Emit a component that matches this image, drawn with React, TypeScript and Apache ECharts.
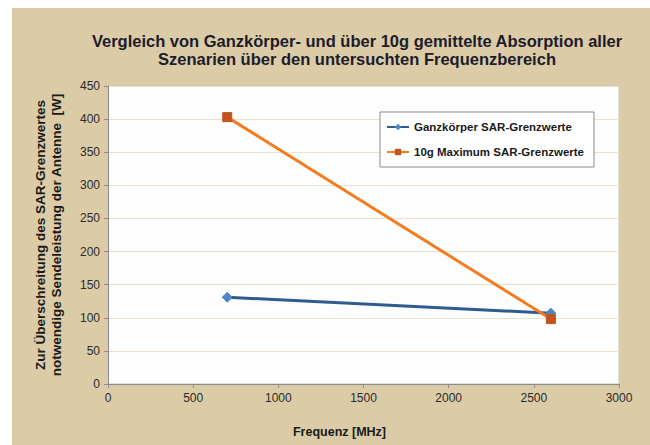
import React, { useEffect, useRef } from "react";
import * as echarts from "echarts";

const titleLines = [
  "Vergleich von Ganzkörper- und über 10g gemittelte Absorption aller",
  "Szenarien über den untersuchten Frequenzbereich",
];
const xName = "Frequenz [MHz]";
const yName = "Zur Überschreitung des SAR-Grenzwertes\nnotwendige Sendeleistung der Antenne  [W]";
const frequencies = [700, 2600];
const ganzkoerper = [131, 107];
const maximum10g = [403, 98];
const seriesNames = ["Ganzkörper SAR-Grenzwerte", "10g Maximum SAR-Grenzwerte"];

export default function App() {
  const ref = useRef<HTMLDivElement>(null);
  useEffect(() => {
    if (!ref.current) return;
    const chart = echarts.init(ref.current, undefined, { renderer: "svg" });
    const font = "'Liberation Sans', Arial, sans-serif";
    chart.setOption({
      animation: false,
      backgroundColor: "#dccba7",
      textStyle: { fontFamily: font },
      title: {
        text: titleLines.join("\n"),
        left: 340,
        top: 19,
        textAlign: "center",
        textStyle: { fontSize: 16.5, fontWeight: "bold", color: "#1c1c2a", lineHeight: 18, fontFamily: font },
      },
      legend: {
        orient: "vertical",
        left: 368,
        top: 104,
        backgroundColor: "#ffffff",
        borderColor: "#8a8a8a",
        borderWidth: 1,
        padding: [9, 10, 9, 6],
        itemGap: 13,
        itemWidth: 22,
        itemHeight: 8,
        textStyle: { fontSize: 11.5, fontWeight: "bold", color: "#1a1a1a", fontFamily: font },
        data: [seriesNames[0], seriesNames[1]],
      },
      grid: {
        left: 96,
        right: 31,
        top: 78,
        bottom: 61,
        show: true,
        backgroundColor: "#fdfdfd",
        borderColor: "#c8c8c8",
        borderWidth: 1,
      },
      xAxis: {
        type: "value",
        min: 0,
        max: 3000,
        interval: 500,
        name: xName,
        nameLocation: "middle",
        nameGap: 41,
        nameTextStyle: { fontSize: 12.5, fontWeight: "bold", color: "#1a1a1a", padding: [0, 48, 0, 0], fontFamily: font },
        axisLine: { show: true, lineStyle: { color: "#8c8c8c", width: 1 } },
        axisTick: { show: true, length: 4, lineStyle: { color: "#8c8c8c" } },
        axisLabel: { fontSize: 12, color: "#2a2a2a", margin: 8, formatter: (v: number) => String(v) },
        splitLine: { show: false },
      },
      yAxis: {
        type: "value",
        min: 0,
        max: 450,
        interval: 50,
        name: yName,
        nameLocation: "middle",
        nameGap: 44,
        nameTextStyle: { fontSize: 13.5, fontWeight: "bold", color: "#1a1a1a", lineHeight: 16, fontFamily: font },
        axisLine: { show: true, lineStyle: { color: "#8c8c8c", width: 1 } },
        axisTick: { show: true, length: 4, lineStyle: { color: "#8c8c8c" } },
        axisLabel: { fontSize: 12, color: "#2a2a2a", margin: 8, formatter: (v: number) => String(v) },
        splitLine: { show: true, lineStyle: { color: "#ece1c9", width: 1 } },
      },
      series: [
        {
          name: seriesNames[0],
          type: "line",
          data: frequencies.map((f, i) => [f, ganzkoerper[i]]),
          symbol: "diamond",
          symbolSize: 10,
          lineStyle: { color: "#2f5c8f", width: 3 },
          itemStyle: { color: "#4f86c6", borderColor: "#4f86c6" },
          z: 3,
        },
        {
          name: seriesNames[1],
          type: "line",
          data: frequencies.map((f, i) => [f, maximum10g[i]]),
          symbol: "rect",
          symbolSize: 9,
          lineStyle: { color: "#f47c20", width: 3 },
          itemStyle: { color: "#c4531e", borderColor: "#c4531e" },
          z: 4,
        },
      ],
    });
    return () => chart.dispose();
  }, []);
  return (
    <div style={{ position: "fixed", left: 0, top: 0, width: 650, height: 445, background: "#fff" }}>
      <div ref={ref} style={{ position: "absolute", left: 12, top: 8, width: 638, height: 437 }} />
    </div>
  );
}
